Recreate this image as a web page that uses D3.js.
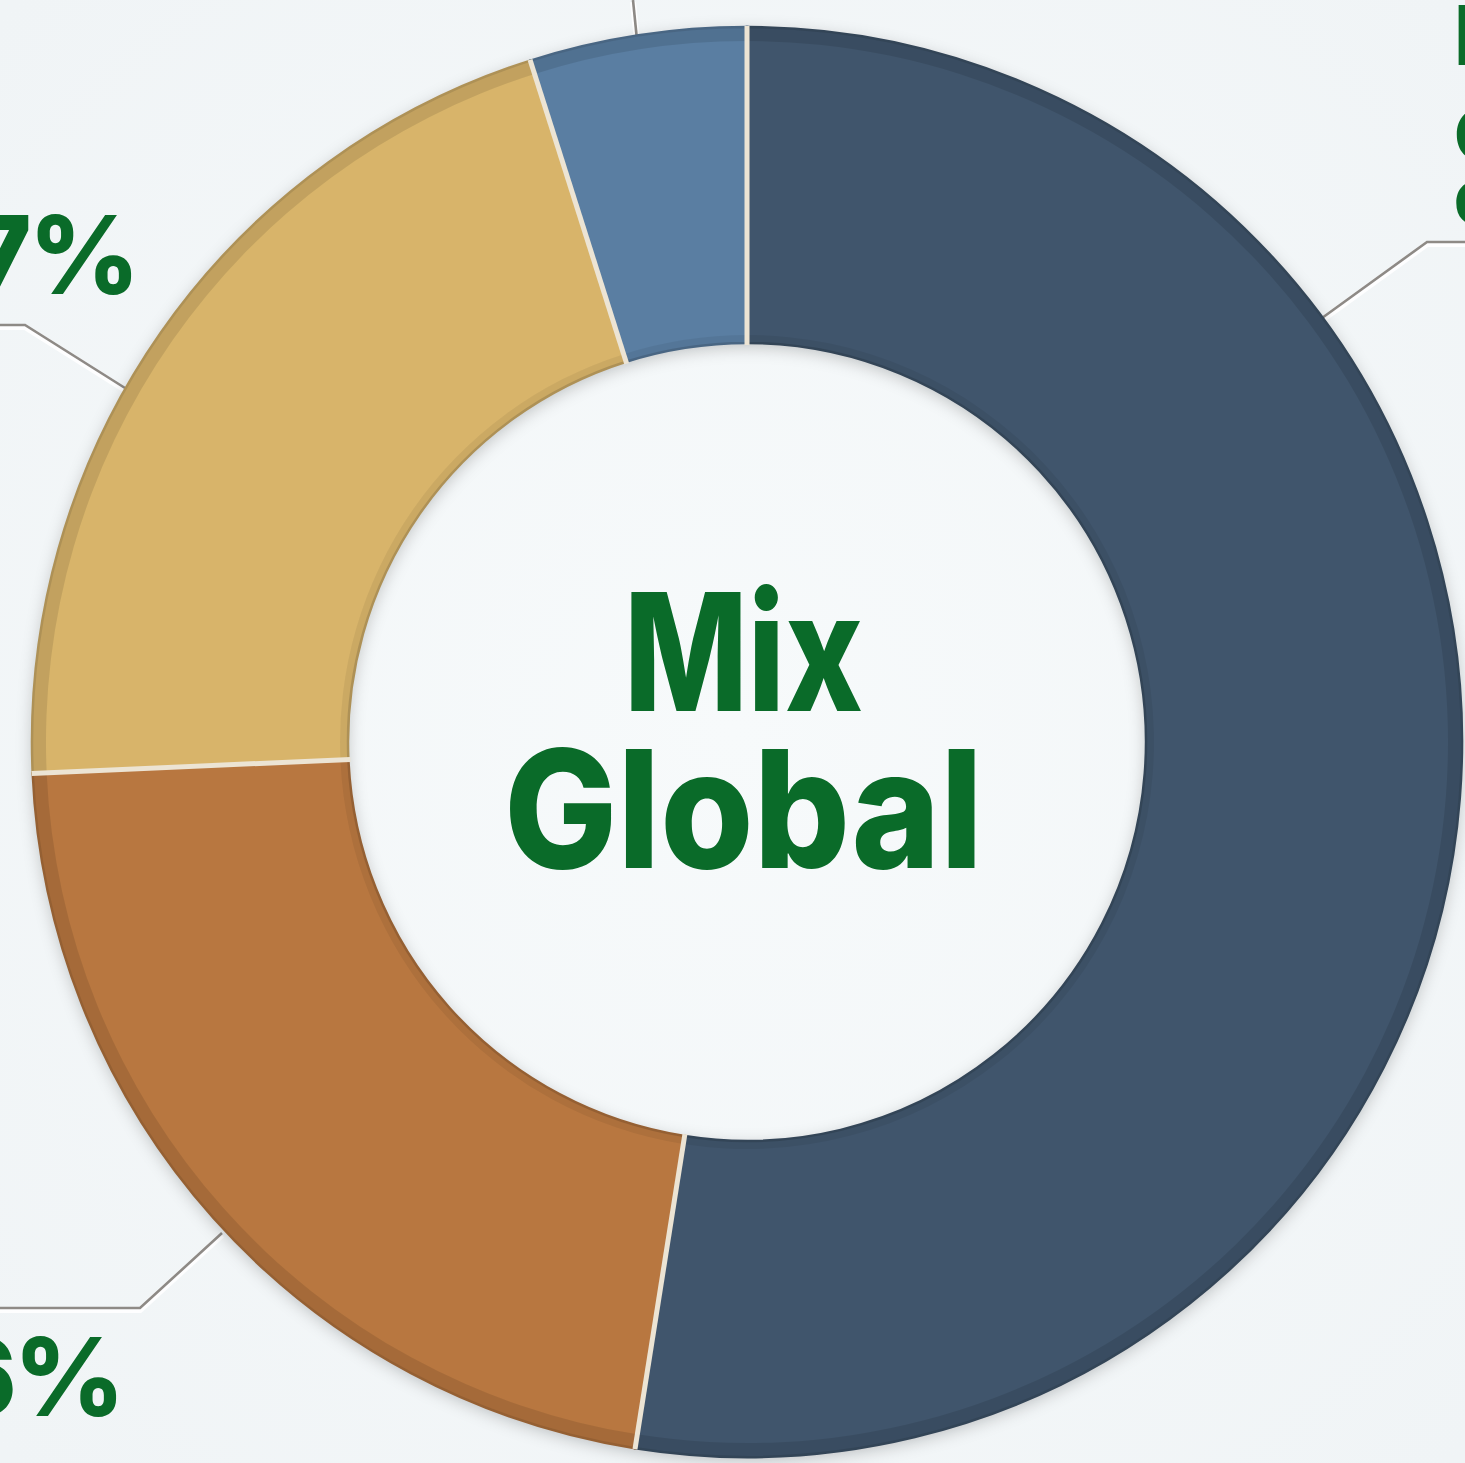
<!DOCTYPE html>
<html>
<head>
<meta charset="utf-8">
<script src="https://cdn.jsdelivr.net/npm/d3@7"></script>
<style>
html,body{margin:0;padding:0;background:#f2f6f8;overflow:hidden;}
svg{display:block;}
</style>
</head>
<body>
<svg id="chart" width="1465" height="1463"></svg>
<script>
// Data
const categories = ["Navy", "Brown", "Tan", "Blue"];
const values = [52.5, 21.8, 20.8, 4.9];
const colors = ["#3f556c", "#b8773f", "#d8b46b", "#5a7ea2"];
const centerTitle = ["Mix", "Global"];
const leftLabel = "7%";
const bottomLabel = "6%";
const rightLabelLines = ["Petróleo", "Gas", "Carbón"];

const W = 1465, H = 1463;
const cx = 747, cy = 742, R = 715, r0 = 399;
const svg = d3.select("#chart");

const defs = svg.append("defs");
const bg = defs.append("radialGradient").attr("id","bg").attr("cx","50%").attr("cy","50%").attr("r","70%");
bg.append("stop").attr("offset","0%").attr("stop-color","#f7fafb");
bg.append("stop").attr("offset","100%").attr("stop-color","#f0f4f6");
const sh = defs.append("filter").attr("id","shadow").attr("x","-10%").attr("y","-10%").attr("width","120%").attr("height","120%");
sh.append("feDropShadow").attr("dx",0).attr("dy",4).attr("stdDeviation",8).attr("flood-color","#000").attr("flood-opacity",0.22);

svg.append("rect").attr("width",W).attr("height",H).attr("fill","url(#bg)");

const pie = d3.pie().sort(null).value(d => d)(values);
const arc = d3.arc().innerRadius(r0).outerRadius(R);
const arcEdge = d3.arc().innerRadius(R - 14).outerRadius(R);
const arcInnerEdge = d3.arc().innerRadius(r0).outerRadius(r0 + 8);

const g = svg.append("g").attr("transform", `translate(${cx},${cy})`);

// leader lines (drawn before donut so donut covers ends)
const lines = [
  [[633 - cx, 0 - cy], [637 - cx, 40 - cy]],
  [[1465 - cx, 242 - cy], [1427 - cx, 242 - cy], [1322 - cx, 318 - cy]],
  [[0 - cx, 325 - cy], [25 - cx, 325 - cy], [125 - cx, 388 - cy]],
  [[0 - cx, 1308 - cy], [140 - cx, 1308 - cy], [222 - cx, 1233 - cy]]
];
const lineGen = d3.line();
g.selectAll("path.leadw").data(lines).join("path")
  .attr("d", lineGen).attr("fill","none").attr("stroke","#ffffff").attr("stroke-width",6).attr("opacity",0.9)
  .attr("transform","translate(0,2)");
g.selectAll("path.lead").data(lines).join("path")
  .attr("d", lineGen).attr("fill","none").attr("stroke","#8e8a86").attr("stroke-width",2.6);

const donut = g.append("g").attr("filter","url(#shadow)");
donut.selectAll("path.seg").data(pie).join("path")
  .attr("class","seg")
  .attr("d", arc)
  .attr("fill", (d,i) => colors[i]);

// darker rim
g.selectAll("path.rim").data(pie).join("path")
  .attr("d", arcEdge)
  .attr("fill", "#000").attr("opacity", 0.10);
// inner rim shade
g.selectAll("path.irim").data(pie).join("path")
  .attr("d", arcInnerEdge)
  .attr("fill", "#000").attr("opacity", 0.06);
// segment outlines
g.selectAll("path.outl").data(pie).join("path")
  .attr("d", arc).attr("fill","none")
  .attr("stroke", (d,i) => d3.color(colors[i]).darker(0.6)).attr("stroke-width", 2.5);

// dividers
g.selectAll("line.div").data(pie).join("line")
  .attr("x1", d => Math.sin(d.startAngle) * (r0 - 2))
  .attr("y1", d => -Math.cos(d.startAngle) * (r0 - 2))
  .attr("x2", d => Math.sin(d.startAngle) * (R + 1))
  .attr("y2", d => -Math.cos(d.startAngle) * (R + 1))
  .attr("stroke", "#ece4d4").attr("stroke-width", 5);

// center title
const green = "#0a6b29";
svg.append("text").attr("x", 624).attr("y", 711)
  .attr("font-family","Inter, 'Open Sans', sans-serif")
  .attr("font-weight",800).attr("font-size",164).attr("fill",green)
  .attr("textLength", 239).attr("lengthAdjust","spacingAndGlyphs")
  .text(centerTitle[0]);
svg.append("text").attr("x", 504).attr("y", 868)
  .attr("font-family","Inter, 'Open Sans', sans-serif")
  .attr("font-weight",800).attr("font-size",164).attr("fill",green)
  .attr("textLength", 479).attr("lengthAdjust","spacingAndGlyphs")
  .text(centerTitle[1]);

// outer labels
svg.append("text").attr("x", 137).attr("y", 294)
  .attr("text-anchor","end").attr("font-family","Inter, sans-serif")
  .attr("font-weight",800).attr("font-size",108).attr("letter-spacing",-3).attr("fill",green)
  .text(leftLabel);
svg.append("text").attr("x", 122).attr("y", 1416)
  .attr("text-anchor","end").attr("font-family","Inter, sans-serif")
  .attr("font-weight",800).attr("font-size",108).attr("letter-spacing",-3).attr("fill",green)
  .text(bottomLabel);
const rl = svg.append("g");
const rlY = [65, 160, 224];
const rlSize = [82, 70, 58];
rl.selectAll("text").data(rightLabelLines).join("text")
  .attr("x", 1454).attr("y", (d,i) => rlY[i])
  .attr("font-family","Inter, sans-serif").attr("font-weight",800).attr("font-size",(d,i) => rlSize[i]).attr("fill",green)
  .text(d => d);
</script>
</body>
</html>
